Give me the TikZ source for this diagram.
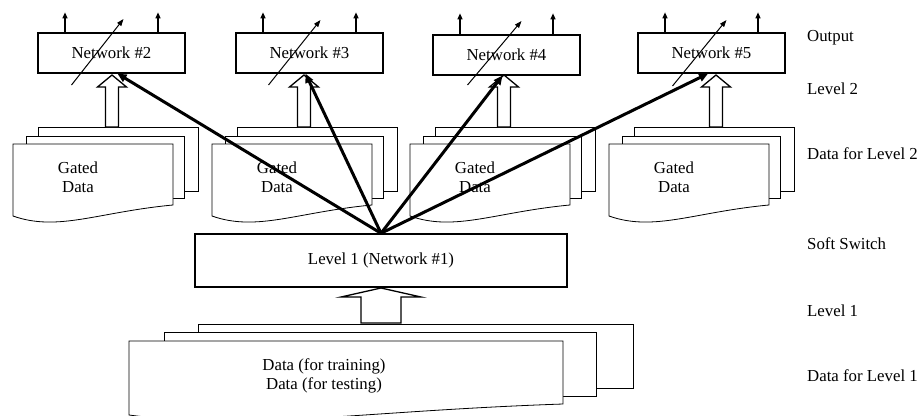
\documentclass[tikz,border=0pt]{standalone}
\usepackage{fontspec}
\setmainfont{Liberation Serif}
\usetikzlibrary{arrows.meta}
\begin{document}
\begin{tikzpicture}[x=1pt, y=-1pt, font=\fontsize{16.8pt}{19pt}\selectfont,
  netbox/.style={draw, line width=1.3pt, minimum width=147pt, minimum height=40pt, inner sep=0pt},
  sheet/.style={draw, fill=white, line width=0.8pt},
  fat/.style={draw, fill=white, line width=1.3pt},
  outarrow/.style={line width=1.2pt, -{Triangle[length=6pt, width=5pt]}},
  weight/.style={line width=1pt, -{Triangle[length=7pt, width=5pt]}},
  link/.style={line width=3pt, -{Triangle[length=9pt, width=8pt]}}]
\useasboundingbox (0,0) rectangle (921,415);
% gated data, level 2
\draw[sheet] (38,127) rectangle (198,191);
\draw[sheet] (26,136) rectangle (184,198);
\draw[sheet] (13,144) -- (173,144) -- (173,205) .. controls (98,212) and (58,232) .. (13,216) -- cycle;
\node[align=center] (G_1) at (78,177) {Gated\\Data};
\draw[sheet] (237,127) rectangle (397,191);
\draw[sheet] (225,136) rectangle (383,198);
\draw[sheet] (212,144) -- (372,144) -- (372,205) .. controls (297,212) and (257,232) .. (212,216) -- cycle;
\node[align=center] (G_2) at (277,177) {Gated\\Data};
\draw[sheet] (435,127) rectangle (595,191);
\draw[sheet] (423,136) rectangle (581,198);
\draw[sheet] (410,144) -- (570,144) -- (570,205) .. controls (495,212) and (455,232) .. (410,216) -- cycle;
\node[align=center] (G_3) at (475,177) {Gated\\Data};
\draw[sheet] (634,127) rectangle (794,191);
\draw[sheet] (622,136) rectangle (780,198);
\draw[sheet] (609,144) -- (769,144) -- (769,205) .. controls (694,212) and (654,232) .. (609,216) -- cycle;
\node[align=center] (G_4) at (674,177) {Gated\\Data};
% data, level 1
\draw[sheet] (198,324) rectangle (633,388);
\draw[sheet] (164,332) rectangle (596,396);
\draw[sheet] (129,341) -- (563,341) -- (563,404) .. controls (359,411) and (250,431) .. (129,415) -- cycle;
\node[align=center] (D) at (324,376) {Data (for training)\\Data (for testing)};
% networks
\node[netbox] (N_2) at (111.5,53) {Network \#2};
\node[netbox] (N_3) at (309.5,53) {Network \#3};
\node[netbox] (N_4) at (506.5,55) {Network \#4};
\node[netbox] (N_5) at (711.5,53) {Network \#5};
\node[draw, line width=1.5pt, minimum width=372pt, minimum height=53pt] (N_1) at (381,260.5) {Level 1 (Network \#1)};
% hollow arrows
\draw[fat] (105.5,127) -- (105.5,87) -- (97.5,87) -- (112,75) -- (126.5,87) -- (118.5,87) -- (118.5,127) -- cycle;
\draw[fat] (297.5,127) -- (297.5,87) -- (289.5,87) -- (304,75) -- (318.5,87) -- (310.5,87) -- (310.5,127) -- cycle;
\draw[fat] (497.5,127) -- (497.5,87) -- (489.5,87) -- (504,75) -- (518.5,87) -- (510.5,87) -- (510.5,127) -- cycle;
\draw[fat] (709.5,127) -- (709.5,87) -- (701.5,87) -- (716,75) -- (730.5,87) -- (722.5,87) -- (722.5,127) -- cycle;
\draw[fat] (361,323) -- (361,297) -- (341,297) -- (381,288) -- (421,297) -- (401,297) -- (401,323) -- cycle;
% outputs
\draw[outarrow] ([xshift=-46.5pt]N_2.north) -- ++(0,-20);
\draw[outarrow] ([xshift=46.5pt]N_2.north) -- ++(0,-20);
\draw[outarrow] ([xshift=-46.5pt]N_3.north) -- ++(0,-20);
\draw[outarrow] ([xshift=46.5pt]N_3.north) -- ++(0,-20);
\draw[outarrow] ([xshift=-46.5pt]N_4.north) -- ++(0,-21);
\draw[outarrow] ([xshift=46.5pt]N_4.north) -- ++(0,-21);
\draw[outarrow] ([xshift=-46.5pt]N_5.north) -- ++(0,-20);
\draw[outarrow] ([xshift=46.5pt]N_5.north) -- ++(0,-20);
% adjustable weights
\draw[weight] ([shift={(-40,32)}]N_2.center) -- ([shift={(12,-34)}]N_2.center);
\draw[weight] ([shift={(-41,32)}]N_3.center) -- ([shift={(11,-33)}]N_3.center);
\draw[weight] ([shift={(-39,30)}]N_4.center) -- ([shift={(15,-34)}]N_4.center);
\draw[weight] ([shift={(-39,33)}]N_5.center) -- ([shift={(15,-33)}]N_5.center);
% soft switch
\draw[link] (N_1.north) -- ([xshift=6pt]N_2.south);
\draw[link] (N_1.north) -- ([xshift=-4pt]N_3.south);
\draw[link] (N_1.north) -- ([xshift=-4pt]N_4.south);
\draw[link] (N_1.north) -- ([xshift=-3.5pt]N_5.south);
% levels
\node[anchor=base west, inner sep=0pt] (L_out) at (807,41) {Output};
\node[anchor=base west, inner sep=0pt] (L_2) at (807,94) {Level 2};
\node[anchor=base west, inner sep=0pt] (L_d2) at (807,159) {Data for Level 2};
\node[anchor=base west, inner sep=0pt] (L_sw) at (807,249) {Soft Switch};
\node[anchor=base west, inner sep=0pt] (L_1) at (807,316) {Level 1};
\node[anchor=base west, inner sep=0pt] (L_d1) at (807,381) {Data for Level 1};
\end{tikzpicture}
\end{document}
